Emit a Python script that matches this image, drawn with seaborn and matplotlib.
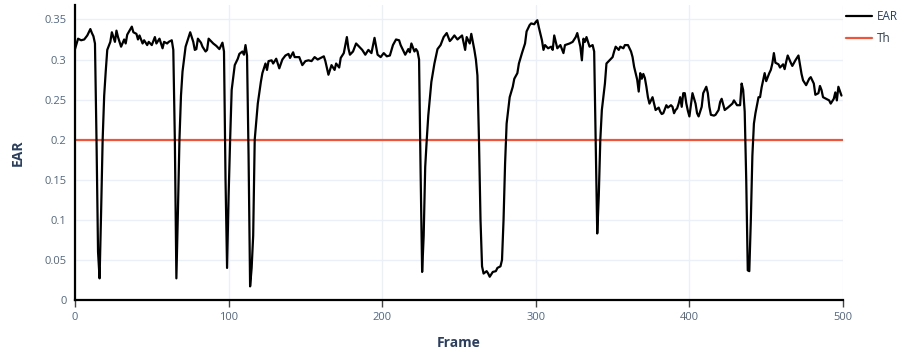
import numpy as np
import pandas as pd
import matplotlib
matplotlib.use("Agg")
import matplotlib.pyplot as plt
import seaborn as sns
from matplotlib.lines import Line2D

# ---- data ----
frames = [0, 2, 4, 6, 8, 10, 11, 12, 13, 14, 15, 16, 17, 18, 19, 20, 21, 23, 24, 26, 27, 28, 30, 32, 33, 34,
          37, 38, 40, 41, 42, 44, 45, 47, 48, 50, 52, 53, 55, 57, 58, 60, 61, 63, 64, 65, 66, 67, 68, 69, 70,
          72, 73, 75, 77, 78, 79, 80, 82, 83, 85, 86, 87, 89, 90, 92, 94, 96, 97, 98, 99, 100, 101, 102, 104,
          106, 107, 109, 110, 111, 112, 113, 114, 115, 116, 117, 119, 121, 122, 124, 125, 126, 128, 129, 131,
          133, 135, 137, 139, 140, 142, 143, 146, 148, 150, 152, 154, 156, 158, 160, 162, 163, 165, 167, 169,
          170, 172, 173, 175, 177, 178, 179, 181, 183, 185, 187, 189, 191, 193, 195, 197, 199, 201, 203, 205,
          207, 209, 211, 212, 214, 215, 217, 218, 219, 221, 222, 223, 224, 225, 226, 227, 228, 229, 230, 232,
          234, 236, 238, 240, 242, 244, 245, 247, 249, 252, 254, 255, 257, 258, 260, 261, 262, 263, 264, 265,
          266, 268, 269, 270, 272, 274, 275, 277, 278, 279, 280, 281, 283, 285, 286, 288, 289, 291, 293, 294,
          296, 297, 299, 300, 301, 302, 304, 305, 306, 308, 310, 311, 312, 314, 316, 318, 319, 322, 324, 326,
          327, 329, 330, 331, 332, 333, 335, 337, 338, 339, 340, 341, 342, 343, 345, 346, 347, 350, 351, 352,
          354, 355, 357, 358, 360, 361, 362, 363, 364, 366, 367, 368, 369, 370, 371, 372, 373, 374, 376, 377,
          378, 380, 381, 382, 383, 385, 386, 388, 389, 390, 391, 392, 393, 394, 395, 396, 397, 398, 399, 400,
          402, 404, 405, 406, 408, 409, 411, 412, 413, 414, 416, 417, 419, 420, 421, 423, 425, 428, 429, 431,
          433, 434, 435, 436, 437, 438, 439, 440, 441, 442, 443, 445, 446, 447, 449, 450, 452, 453, 454, 455,
          456, 458, 459, 461, 462, 463, 464, 466, 467, 469, 471, 473, 474, 476, 478, 479, 481, 482, 484, 485,
          486, 487, 489, 491, 492, 494, 495, 496, 497, 499]

ear = [0.313, 0.326, 0.324, 0.325, 0.330, 0.338, 0.333, 0.329, 0.320, 0.200, 0.060, 0.027, 0.110, 0.200,
       0.255, 0.285, 0.312, 0.322, 0.334, 0.322, 0.336, 0.328, 0.316, 0.325, 0.320, 0.331,
       0.341, 0.334, 0.332, 0.325, 0.330, 0.320, 0.324, 0.318, 0.322, 0.318, 0.328, 0.320, 0.326, 0.314,
       0.322, 0.320, 0.322, 0.324, 0.312, 0.200, 0.027, 0.110, 0.200, 0.255, 0.285,
       0.316, 0.322, 0.334, 0.322, 0.312, 0.313, 0.326, 0.321, 0.316, 0.310, 0.312, 0.326, 0.322, 0.320,
       0.317, 0.313, 0.321, 0.310, 0.150, 0.040, 0.130, 0.200, 0.262, 0.293,
       0.301, 0.307, 0.310, 0.306, 0.318, 0.305, 0.180, 0.017, 0.040, 0.080, 0.200, 0.245, 0.272, 0.283,
       0.295, 0.287, 0.298, 0.299, 0.295, 0.301,
       0.289, 0.300, 0.305, 0.307, 0.302, 0.309, 0.303, 0.303, 0.293, 0.298, 0.299, 0.298, 0.303, 0.300,
       0.302, 0.304, 0.298, 0.281, 0.293, 0.287,
       0.295, 0.290, 0.302, 0.308, 0.328, 0.314, 0.306, 0.310, 0.320, 0.316, 0.312, 0.306, 0.312, 0.308,
       0.327, 0.306, 0.303, 0.308, 0.304, 0.305,
       0.318, 0.325, 0.324, 0.318, 0.310, 0.306, 0.313, 0.309, 0.320, 0.310, 0.313, 0.310, 0.300, 0.160,
       0.035, 0.080, 0.166, 0.200, 0.230, 0.272,
       0.295, 0.313, 0.318, 0.328, 0.333, 0.323, 0.325, 0.330, 0.325, 0.330, 0.312, 0.328, 0.320, 0.332,
       0.312, 0.300, 0.280, 0.200, 0.100, 0.042,
       0.033, 0.036, 0.033, 0.029, 0.035, 0.036, 0.040, 0.042, 0.050, 0.100, 0.170, 0.220, 0.253, 0.266,
       0.276, 0.283, 0.295, 0.308, 0.320, 0.335,
       0.343, 0.345, 0.344, 0.347, 0.349, 0.340, 0.324, 0.312, 0.318, 0.314, 0.316, 0.312, 0.330, 0.314,
       0.318, 0.308, 0.318, 0.320, 0.322, 0.328,
       0.333, 0.316, 0.299, 0.326, 0.322, 0.328, 0.316, 0.318, 0.310, 0.200, 0.083, 0.130, 0.200, 0.237,
       0.270, 0.295, 0.297, 0.303, 0.310, 0.316,
       0.312, 0.316, 0.314, 0.318, 0.318, 0.314, 0.310, 0.303, 0.291, 0.275, 0.260, 0.283, 0.276, 0.282,
       0.277, 0.266, 0.253, 0.245, 0.253, 0.245,
       0.237, 0.240, 0.235, 0.232, 0.233, 0.243, 0.240, 0.243, 0.241, 0.233, 0.237, 0.239, 0.245, 0.253,
       0.241, 0.258, 0.258, 0.245, 0.236, 0.229,
       0.258, 0.245, 0.233, 0.229, 0.241, 0.258, 0.266, 0.258, 0.241, 0.231, 0.230, 0.231, 0.237, 0.247,
       0.251, 0.237, 0.240, 0.245, 0.249, 0.243,
       0.243, 0.270, 0.262, 0.235, 0.150, 0.037, 0.036, 0.100, 0.180, 0.220, 0.233, 0.253, 0.253, 0.265,
       0.283, 0.273, 0.283, 0.287, 0.295, 0.308,
       0.296, 0.294, 0.290, 0.294, 0.288, 0.297, 0.305, 0.296, 0.292, 0.299, 0.305, 0.282, 0.274, 0.268,
       0.276, 0.278, 0.270, 0.256, 0.258, 0.267,
       0.262, 0.253, 0.251, 0.249, 0.245, 0.251, 0.259, 0.249, 0.266, 0.255]

threshold = 0.2
series_names = ["EAR", "Th"]
x_ticks = [0, 100, 200, 300, 400, 500]
y_ticks = [0, 0.05, 0.1, 0.15, 0.2, 0.25, 0.3, 0.35]
y_tick_labels = ["0", "0.05", "0.1", "0.15", "0.2", "0.25", "0.3", "0.35"]

df = pd.DataFrame({"Frame": frames, "EAR": ear})

# ---- style ----
sns.set_theme(style="white")
plt.rcParams["font.family"] = ["Open Sans", "DejaVu Sans"]

TEXT = "#2a3f5f"
TICK = "#506784"
GRID = "#ebf0f8"
TH_COLOR = "#ef553b"

fig = plt.figure(figsize=(9.19, 3.55), dpi=100)
ax = fig.add_axes([75 / 919, 55 / 355, 768 / 919, 295 / 355])

sns.lineplot(data=df, x="Frame", y="EAR", ax=ax, color="black", linewidth=1.6, zorder=3)
ax.axhline(threshold, color=TH_COLOR, linewidth=1.6, zorder=2)

ax.set_xlim(0, 500)
ax.set_ylim(0, 0.368)
ax.set_xticks(x_ticks)
ax.set_yticks(y_ticks)
ax.set_yticklabels(y_tick_labels)

ax.grid(True, color=GRID, linewidth=1, zorder=0)
ax.set_axisbelow(True)

for side in ["top", "right"]:
    ax.spines[side].set_visible(False)
for side in ["left", "bottom"]:
    ax.spines[side].set_color("black")
    ax.spines[side].set_linewidth(1.6)

ax.tick_params(axis="x", which="both", direction="out", length=5, width=1,
               color="#444444", labelsize=8, labelcolor=TICK, pad=4, bottom=True)
ax.tick_params(axis="y", which="both", length=0, labelsize=8, labelcolor=TICK, pad=6, left=True)

ax.set_xlabel("Frame", fontsize=10, fontweight="bold", color=TEXT, labelpad=9)
ax.set_ylabel("EAR", fontsize=10, fontweight="bold", color=TEXT, labelpad=14)

handles = [Line2D([], [], color="black", linewidth=1.6),
           Line2D([], [], color=TH_COLOR, linewidth=1.6)]
leg = fig.legend(handles, series_names, loc="upper left",
                 bbox_to_anchor=(846 / 919, 1 - 10 / 355), frameon=False,
                 fontsize=8.5, handlelength=2.2, handletextpad=0.4,
                 labelspacing=0.75, borderaxespad=0, borderpad=0)
for t in leg.get_texts():
    t.set_color(TEXT)

fig.savefig("out.png", dpi=100)
